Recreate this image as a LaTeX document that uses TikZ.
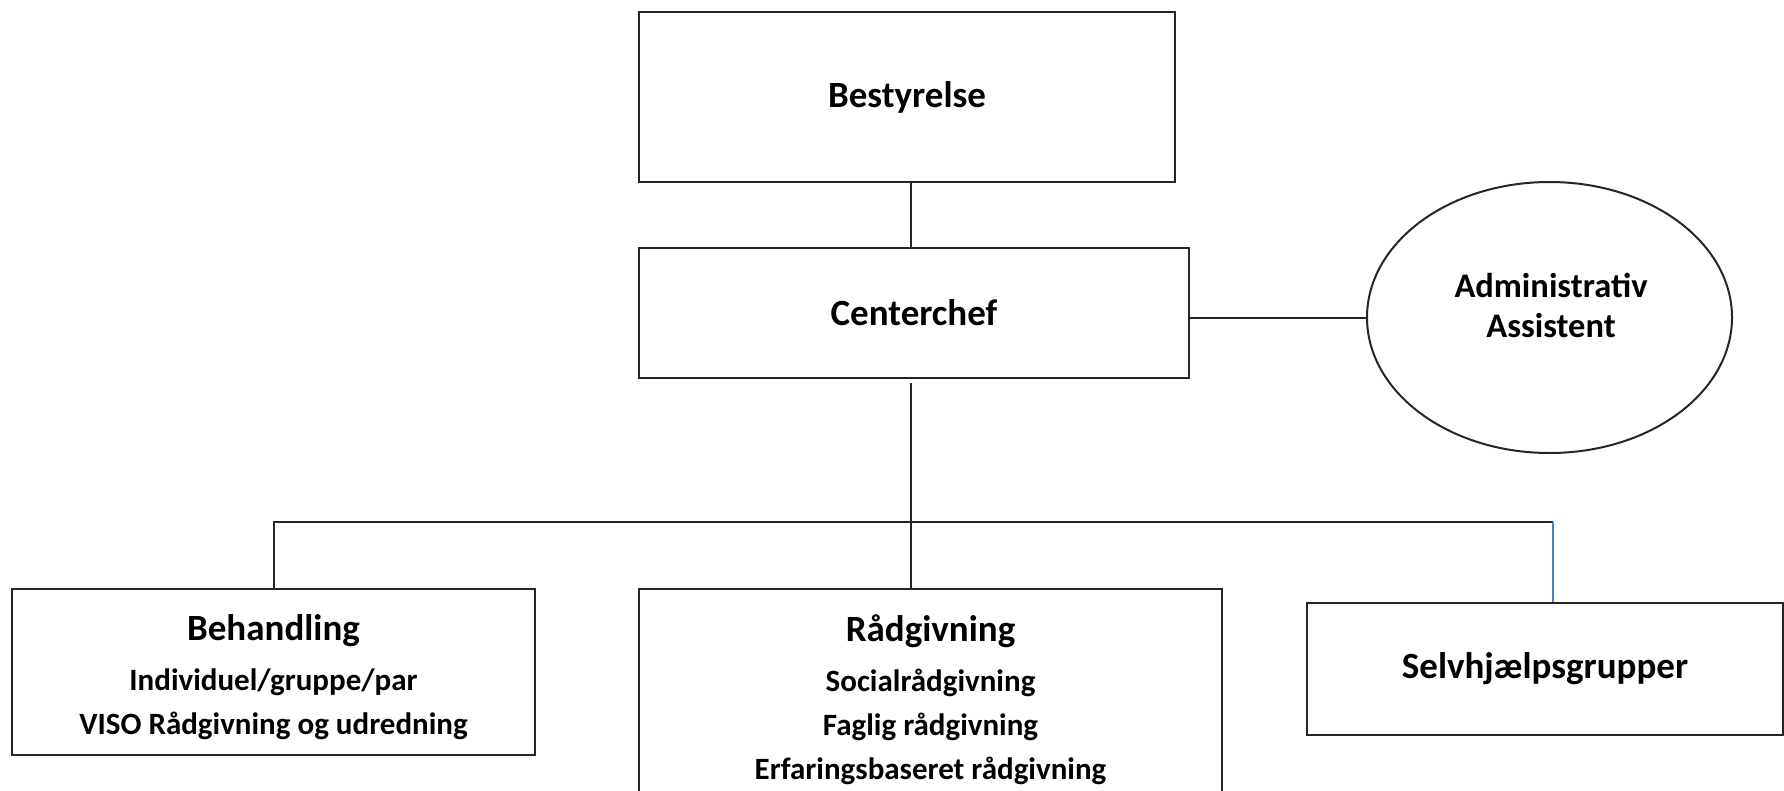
\documentclass[tikz,border=0pt]{standalone}
\usepackage{fontspec}
\setmainfont{Carlito}
\usetikzlibrary{shapes.geometric}

\definecolor{linkblue}{RGB}{79,129,189}
\newcommand{\headfont}{\fontsize{37}{44}\selectfont\bfseries}
\newcommand{\itemfont}{\fontsize{31}{43}\selectfont\bfseries}

\begin{document}
\begin{tikzpicture}[x=1pt, y=-1pt,
  box/.style={draw=black!85, line width=2pt, rectangle, inner sep=0pt, font=\headfont, align=center},
  oval/.style={draw=black!85, line width=2pt, ellipse, inner sep=0pt},
  link/.style={draw=black!85, line width=2pt},
  bluelink/.style={draw=linkblue, line width=1.7pt}]
  \useasboundingbox (0,0) rectangle (1784,790);
  \clip (0,0) rectangle (1784,790);

  % Nodes
  \node[box, minimum width=536pt, minimum height=170pt] (best) at (907,97) {Bestyrelse};
  \node[box, minimum width=550pt, minimum height=130pt] (chef) at (914,313) {Centerchef};
  \node[oval, minimum width=365pt, minimum height=271pt] (assist) at (1549.5,317.5) {};
  \node[font=\fontsize{34.5}{40}\selectfont\bfseries, align=center] (assistlabel) at (1551,305) {Administrativ\\Assistent};

  \node[box, minimum width=523pt, minimum height=166pt] (beh) at (273.5,672)
    {\rule{0pt}{36pt}Behandling\\[6pt]{\itemfont Individuel/gruppe/par}\\{\itemfont VISO Rådgivning og udredning}};
  \node[box, minimum width=583pt, minimum height=212pt] (raad) at (930.5,695)
    {\rule{0pt}{36pt}Rådgivning\\[6pt]{\itemfont Socialrådgivning}\\{\itemfont Faglig rådgivning}\\{\itemfont Erfaringsbaseret rådgivning}};
  \node[box, minimum width=476pt, minimum height=132pt] (selv) at (1545,669) {Selvhjælpsgrupper};

  \coordinate (hub) at (911,522);
  \coordinate (busend) at (1553,522);

  % Lines
  \draw[link] ([xshift=4pt]best.south) -- ([xshift=4pt]best.south |- chef.north);
  \draw[link] (assist.west -| chef.east) -- (assist.west);
  \draw[link, shorten <=4pt] (chef.south -| hub) -- (hub |- raad.north);
  \draw[link] (beh.north) |- (busend);
  \draw[bluelink] (busend) -- (busend |- selv.north);
\end{tikzpicture}
\end{document}
